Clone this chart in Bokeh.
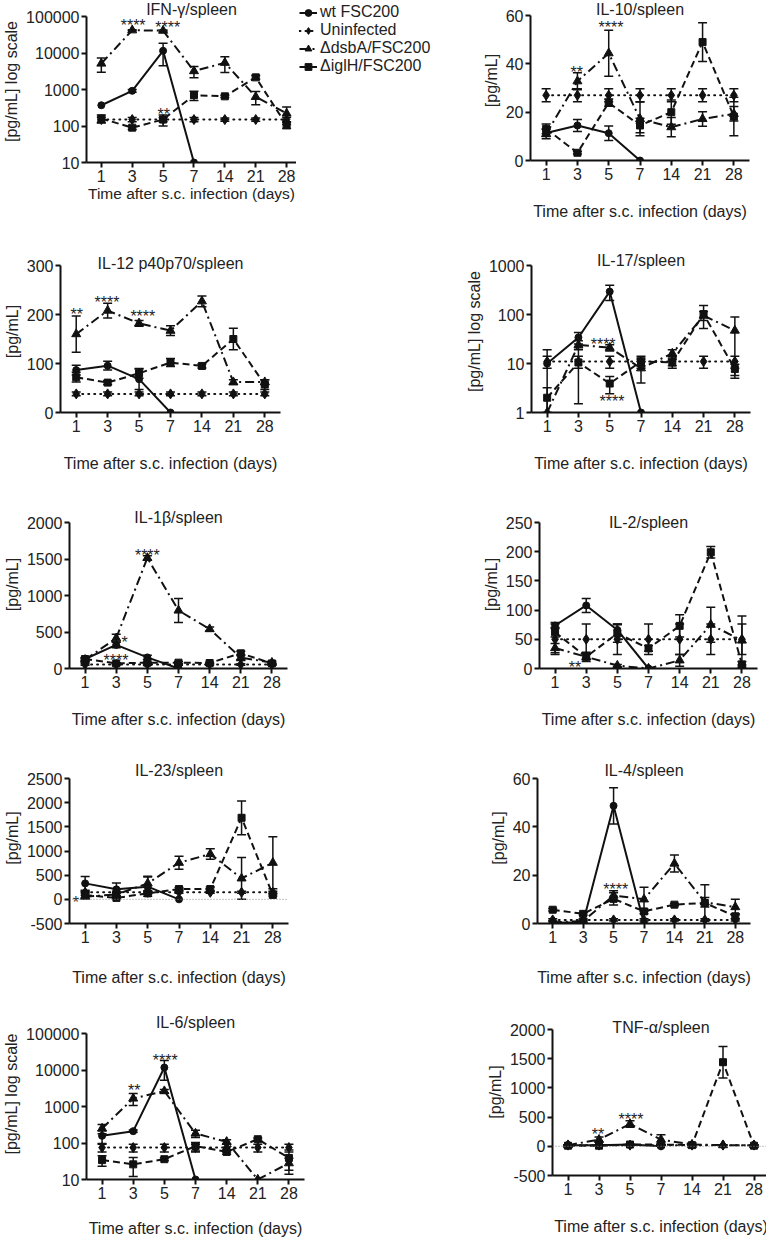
import math
from bokeh.plotting import figure
from bokeh.models import (ColumnDataSource, Whisker, TeeHead, Label, Legend, LegendItem,
                          FixedTicker, NumeralTickFormatter, Range1d, Span)
from bokeh.layouts import row, column
from bokeh.embed import file_html
from bokeh.resources import INLINE
from bokeh.core.properties import value

nan = float("nan")
FONT = "Liberation Sans"
INK = "#111111"
TXT = "#222222"

DAYS = ["1", "3", "5", "7", "14", "21", "28"]
SERIES_NAMES = ["wt FSC200", "Uninfected", "\u0394dsbA/FSC200", "\u0394iglH/FSC200"]
X_LABEL = "Time after s.c. infection (days)"

# ---------------- data (mean, SEM) ----------------
# IFN-gamma (log)
IFN_WT = [370, 920, 11500, 10, nan, nan, nan]
IFN_WT_SEM = [0, 80, 7000, 0, 0, 0, 0]
IFN_UN = [150, 150, 150, 150, 150, 150, 150]
IFN_UN_SEM = [25, 20, 20, 20, 15, 15, 20]
IFN_DS = [5150, 42000, 41000, 3200, 5400, 630, 220]
IFN_DS_SEM = [2200, 1500, 1500, 1100, 2500, 250, 110]
IFN_IG = [160, 90, 150, 700, 650, 2150, 105]
IFN_IG_SEM = [40, 10, 50, 200, 50, 250, 20]
IFN_STAR_X = [1.03, 2.15, 2.02]
IFN_STAR_Y = [71000, 65000, 272]
IFN_STAR_T = ["****", "****", "**"]

# IL-10
IL10_WT = [11.4, 14.5, 11.3, 0, nan, nan, nan]
IL10_WT_SEM = [1.5, 2.5, 3, 0, 0, 0, 0]
IL10_UN = [27, 27, 27, 27, 27, 27, 27]
IL10_UN_SEM = [2.7, 2.7, 2.7, 2.7, 2.7, 2.7, 2.7]
IL10_DS = [11, 32.8, 44.4, 17.2, 13.8, 17.2, 19.3]
IL10_DS_SEM = [2, 3.5, 9.5, 7, 4, 3, 3]
IL10_IG = [13.1, 3.2, 23.9, 14.5, 20, 49, 18.2]
IL10_IG_SEM = [2, 0.5, 1.5, 3, 5, 8, 8]
IL10_STAR_X = [0.98, 2.07]
IL10_STAR_Y = [37.9, 56.6]
IL10_STAR_T = ["**", "****"]

# IL-12 p40p70
IL12_WT = [86.6, 95.5, 68, 0, nan, nan, nan]
IL12_WT_SEM = [10, 9, 21, 0, 0, 0, 0]
IL12_UN = [38, 38, 38, 38, 38, 38, 38]
IL12_UN_SEM = [4, 4, 4, 4, 4, 4, 4]
IL12_DS = [160, 208, 182, 167, 227, 62, 62]
IL12_DS_SEM = [37, 15, 6, 10, 11, 5, 5]
IL12_IG = [72, 61, 80, 102, 95, 150, 57]
IL12_IG_SEM = [10, 4, 10, 8, 4, 22, 10]
IL12_STAR_X = [0.02, 0.98, 2.12]
IL12_STAR_Y = [208, 233, 204]
IL12_STAR_T = ["**", "****", "****"]

# IL-17 (log)
IL17_WT = [10, 34, 293, 1, nan, nan, nan]
IL17_WT_SEM = [9, 9, 100, 0, 0, 0, 0]
IL17_UN = [11, 11, 11, 11, 11, 11, 11]
IL17_UN_SEM = [3, 3, 3, 3, 3, 3, 3]
IL17_DS = [1, 24, 21, 8, 16, 95, 47]
IL17_DS_SEM = [0, 5, 3, 4, 3, 20, 42]
IL17_IG = [2, 10.5, 3.9, 11, 10.5, 102, 7.7]
IL17_IG_SEM = [1.2, 9, 1.5, 2, 1.5, 50, 2]
IL17_STAR_X = [1.79, 2.07]
IL17_STAR_Y = [29, 2.03]
IL17_STAR_T = ["****", "****"]

# IL-1beta
IL1B_WT = [130, 323, 152, 0, nan, nan, nan]
IL1B_WT_SEM = [20, 40, 30, 0, 0, 0, 0]
IL1B_UN = [55, 55, 55, 55, 55, 55, 55]
IL1B_UN_SEM = [10, 10, 10, 10, 10, 10, 10]
IL1B_DS = [120, 415, 1515, 795, 540, 150, 80]
IL1B_DS_SEM = [20, 55, 30, 165, 30, 40, 20]
IL1B_IG = [130, 70, 80, 80, 75, 208, 70]
IL1B_IG_SEM = [15, 10, 10, 15, 10, 30, 10]
IL1B_STAR_X = [1.27, 0.99, 2.0]
IL1B_STAR_Y = [415, 171, 1603]
IL1B_STAR_T = ["*", "****", "****"]

# IL-2
IL2_WT = [73.6, 108, 66, 0, nan, nan, nan]
IL2_WT_SEM = [5, 12, 10, 0, 0, 0, 0]
IL2_UN = [50, 50, 50, 50, 50, 50, 50]
IL2_UN_SEM = [26, 26, 26, 26, 26, 26, 26]
IL2_DS = [35, 20, 5, 0, 14, 75, 48]
IL2_DS_SEM = [8, 8, 2, 0, 10, 30, 42]
IL2_IG = [62, 20, 60, 34.5, 73, 199, 7]
IL2_IG_SEM = [8, 5, 15, 5, 19, 10, 5]
IL2_STAR_X = [0.64]
IL2_STAR_Y = [8.6]
IL2_STAR_T = ["**"]

# IL-23
IL23_WT = [330, 207, 262, 0, nan, nan, nan]
IL23_WT_SEM = [140, 130, 200, 0, 0, 0, 0]
IL23_UN = [145, 145, 145, 145, 145, 145, 145]
IL23_UN_SEM = [20, 20, 20, 20, 20, 20, 20]
IL23_DS = [55, 100, 330, 757, 937, 434, 757]
IL23_DS_SEM = [30, 40, 150, 135, 110, 430, 540]
IL23_IG = [90, 30, 124, 213, 213, 1687, 90]
IL23_IG_SEM = [60, 20, 20, 30, 40, 350, 20]
IL23_STAR_X = [-0.3]
IL23_STAR_Y = [20]
IL23_STAR_T = ["*"]

# IL-4
IL4_WT = [0.3, 0.5, 48.7, 0, nan, nan, nan]
IL4_WT_SEM = [0, 0, 7.5, 0, 0, 0, 0]
IL4_UN = [1.5, 1.5, 1.5, 1.5, 1.5, 1.5, 1.5]
IL4_UN_SEM = [0.5, 0.5, 0.5, 0.5, 0.5, 0.5, 0.5]
IL4_DS = [0.5, 1, 11.6, 10, 24.8, 8.8, 6.8]
IL4_DS_SEM = [0.5, 0.5, 2, 5, 3.5, 2, 3.2]
IL4_IG = [5.7, 4, 10.2, 5, 7.8, 8.5, 3]
IL4_IG_SEM = [0.5, 0.5, 2.5, 1, 0.5, 7.5, 1]
IL4_STAR_X = [2.07]
IL4_STAR_Y = [15.7]
IL4_STAR_T = ["****"]

# IL-6 (log)
IL6_WT = [157, 211, 11700, 10, nan, nan, nan]
IL6_WT_SEM = [60, 15, 6500, 0, 0, 0, 0]
IL6_UN = [75, 75, 75, 75, 75, 75, 75]
IL6_UN_SEM = [18, 18, 18, 18, 18, 18, 18]
IL6_DS = [250, 1660, 2640, 182, 108, 10, 28]
IL6_DS_SEM = [70, 600, 300, 40, 15, 0, 10]
IL6_IG = [34, 26, 36, 82, 57, 127, 39]
IL6_IG_SEM = [11, 14, 3, 22, 8, 10, 25]
IL6_STAR_X = [1.03, 2.03]
IL6_STAR_Y = [3470, 23000]
IL6_STAR_T = ["**", "****"]

# TNF-alpha
TNF_WT = [20, 20, 30, 0, nan, nan, nan]
TNF_WT_SEM = [5, 5, 5, 0, 0, 0, 0]
TNF_UN = [20, 20, 20, 20, 20, 20, 20]
TNF_UN_SEM = [5, 5, 5, 5, 5, 5, 5]
TNF_DS = [20, 114, 383, 114, 30, 20, 20]
TNF_DS_SEM = [5, 45, 55, 85, 10, 5, 5]
TNF_IG = [10, 10, 30, 30, 20, 1440, 10]
TNF_IG_SEM = [5, 5, 5, 10, 40, 270, 5]
TNF_STAR_X = [0.97, 2.03]
TNF_STAR_Y = [268, 526]
TNF_STAR_T = ["**", "****"]

# ---------------- panel definitions ----------------
LOG_LABEL = "[pg/mL] log scale"
LIN_LABEL = "[pg/mL]"
PANELS = {
    "IFN": dict(title="IFN-\u03b3/spleen", log=True, yr=(10, 100000), ticks=[10, 100, 1000, 10000, 100000],
                ylabel=LOG_LABEL, zero=False,
                data=[(IFN_WT, IFN_WT_SEM), (IFN_UN, IFN_UN_SEM), (IFN_DS, IFN_DS_SEM), (IFN_IG, IFN_IG_SEM)],
                stars=(IFN_STAR_X, IFN_STAR_Y, IFN_STAR_T)),
    "IL10": dict(title="IL-10/spleen", log=False, yr=(0, 60), ticks=[0, 20, 40, 60], ylabel=LIN_LABEL, zero=False,
                 data=[(IL10_WT, IL10_WT_SEM), (IL10_UN, IL10_UN_SEM), (IL10_DS, IL10_DS_SEM), (IL10_IG, IL10_IG_SEM)],
                 stars=(IL10_STAR_X, IL10_STAR_Y, IL10_STAR_T)),
    "IL12": dict(title="IL-12 p40p70/spleen", log=False, yr=(0, 300), ticks=[0, 100, 200, 300], ylabel=LIN_LABEL,
                 zero=False,
                 data=[(IL12_WT, IL12_WT_SEM), (IL12_UN, IL12_UN_SEM), (IL12_DS, IL12_DS_SEM), (IL12_IG, IL12_IG_SEM)],
                 stars=(IL12_STAR_X, IL12_STAR_Y, IL12_STAR_T)),
    "IL17": dict(title="IL-17/spleen", log=True, yr=(1, 1000), ticks=[1, 10, 100, 1000], ylabel=LOG_LABEL, zero=False,
                 data=[(IL17_WT, IL17_WT_SEM), (IL17_UN, IL17_UN_SEM), (IL17_DS, IL17_DS_SEM), (IL17_IG, IL17_IG_SEM)],
                 stars=(IL17_STAR_X, IL17_STAR_Y, IL17_STAR_T)),
    "IL1B": dict(title="IL-1\u03b2/spleen", log=False, yr=(0, 2000), ticks=[0, 500, 1000, 1500, 2000],
                 ylabel=LIN_LABEL, zero=False,
                 data=[(IL1B_WT, IL1B_WT_SEM), (IL1B_UN, IL1B_UN_SEM), (IL1B_DS, IL1B_DS_SEM), (IL1B_IG, IL1B_IG_SEM)],
                 stars=(IL1B_STAR_X, IL1B_STAR_Y, IL1B_STAR_T)),
    "IL2": dict(title="IL-2/spleen", log=False, yr=(0, 250), ticks=[0, 50, 100, 150, 200, 250], ylabel=LIN_LABEL,
                zero=False,
                data=[(IL2_WT, IL2_WT_SEM), (IL2_UN, IL2_UN_SEM), (IL2_DS, IL2_DS_SEM), (IL2_IG, IL2_IG_SEM)],
                stars=(IL2_STAR_X, IL2_STAR_Y, IL2_STAR_T)),
    "IL23": dict(title="IL-23/spleen", log=False, yr=(-500, 2500), ticks=[-500, 0, 500, 1000, 1500, 2000, 2500],
                 ylabel=LIN_LABEL, zero=True,
                 data=[(IL23_WT, IL23_WT_SEM), (IL23_UN, IL23_UN_SEM), (IL23_DS, IL23_DS_SEM), (IL23_IG, IL23_IG_SEM)],
                 stars=(IL23_STAR_X, IL23_STAR_Y, IL23_STAR_T)),
    "IL4": dict(title="IL-4/spleen", log=False, yr=(0, 60), ticks=[0, 20, 40, 60], ylabel=LIN_LABEL, zero=False,
                data=[(IL4_WT, IL4_WT_SEM), (IL4_UN, IL4_UN_SEM), (IL4_DS, IL4_DS_SEM), (IL4_IG, IL4_IG_SEM)],
                stars=(IL4_STAR_X, IL4_STAR_Y, IL4_STAR_T)),
    "IL6": dict(title="IL-6/spleen", log=True, yr=(10, 100000), ticks=[10, 100, 1000, 10000, 100000],
                ylabel=LOG_LABEL, zero=False,
                data=[(IL6_WT, IL6_WT_SEM), (IL6_UN, IL6_UN_SEM), (IL6_DS, IL6_DS_SEM), (IL6_IG, IL6_IG_SEM)],
                stars=(IL6_STAR_X, IL6_STAR_Y, IL6_STAR_T)),
    "TNF": dict(title="TNF-\u03b1/spleen", log=False, yr=(-500, 2000), ticks=[-500, 0, 500, 1000, 1500, 2000],
                ylabel=LIN_LABEL, zero=True,
                data=[(TNF_WT, TNF_WT_SEM), (TNF_UN, TNF_UN_SEM), (TNF_DS, TNF_DS_SEM), (TNF_IG, TNF_IG_SEM)],
                stars=(TNF_STAR_X, TNF_STAR_Y, TNF_STAR_T)),
}

# layout geometry (pixels): ext = frame space above the top tick used for the title
GEOM = {
    "IFN": dict(left=80, fw=210, right=0, ext=16, fh=146, bottom=88, xr=(-0.48, 6.32), tdy=7, xls=0, xlf="15.5px"),
    "IL10": dict(left=54, fw=219, right=22, ext=15, fh=145, bottom=90, xr=(-0.5, 6.5), tdy=6, xls=20, xlf="16px"),
    "IL12": dict(left=55, fw=220, right=115, ext=15, fh=147, bottom=88, xr=(-0.5, 6.5), tdy=2, xls=20, xlf="16px"),
    "IL17": dict(left=136, fw=219, right=20, ext=15, fh=147, bottom=88, xr=(-0.5, 6.5), tdy=5, xls=20, xlf="16px"),
    "IL1B": dict(left=67, fw=218, right=105, ext=22, fh=146, bottom=84, xr=(-0.5, 6.5), tdy=5, xls=20, xlf="16px"),
    "IL2": dict(left=147, fw=218, right=10, ext=22, fh=146, bottom=84, xr=(-0.5, 6.5), tdy=0, xls=20, xlf="16px"),
    "IL23": dict(left=64, fw=219, right=107, ext=26, fh=145, bottom=85, xr=(-0.5, 6.5), tdy=8, xls=23, xlf="16px"),
    "IL4": dict(left=142, fw=213, right=20, ext=26, fh=145, bottom=85, xr=(-0.5, 6.5), tdy=8, xls=23, xlf="16px"),
    "IL6": dict(left=80, fw=218, right=92, ext=25, fh=146, bottom=59, xr=(-0.5, 6.5), tdy=11, xls=18, xlf="16px"),
    "TNF": dict(left=156, fw=217, right=2, ext=21, fh=146, bottom=63, xr=(-0.5, 6.5), tdy=2, xls=20, xlf="16px"),
}

STYLES = [
    dict(marker="circle", size=7, dash="solid"),
    dict(marker="diamond", size=10, dash="1 5"),
    dict(marker="triangle", size=9, dash="9 4 2 4"),
    dict(marker="square", size=7, dash="7 4"),
]
DRAW_ORDER = [1, 2, 3, 0]


def style_axis(ax):
    ax.axis_line_width = 2
    ax.axis_line_color = INK
    ax.major_tick_line_width = 2
    ax.major_tick_line_color = INK
    ax.major_tick_out = 5
    ax.major_tick_in = 0
    ax.minor_tick_line_color = None
    ax.major_label_text_font = FONT
    ax.major_label_text_font_size = "16px"
    ax.major_label_text_color = TXT
    ax.major_label_standoff = 2
    ax.axis_label_text_font = FONT
    ax.axis_label_text_font_size = "16px"
    ax.axis_label_text_font_style = "normal"
    ax.axis_label_text_color = TXT


def make_panel(key):
    spec = PANELS[key]
    g = GEOM[key]
    lo, hi = spec["yr"]
    if spec["log"]:
        span = math.log10(hi) - math.log10(lo)
        top = 10 ** (math.log10(hi) + g["ext"] * span / g["fh"])
    else:
        top = hi + g["ext"] * (hi - lo) / g["fh"]
    kw = dict(y_axis_type="log") if spec["log"] else {}
    p = figure(frame_width=g["fw"], frame_height=g["fh"] + g["ext"],
               min_border_left=g["left"], min_border_right=g["right"],
               min_border_top=0, min_border_bottom=g["bottom"],
               x_range=Range1d(*g["xr"]), y_range=Range1d(lo, top),
               toolbar_location=None, output_backend="svg", **kw)
    p.outline_line_color = None
    p.grid.visible = False
    style_axis(p.xaxis[0])
    style_axis(p.yaxis[0])
    p.xaxis.ticker = FixedTicker(ticks=list(range(len(DAYS))))
    p.xaxis.major_label_overrides = {i: d for i, d in enumerate(DAYS)}
    p.xaxis.axis_label = X_LABEL
    p.xaxis.axis_label_standoff = g["xls"]
    p.xaxis.axis_label_text_font_size = g["xlf"]
    p.yaxis.ticker = FixedTicker(ticks=spec["ticks"])
    p.yaxis.formatter = NumeralTickFormatter(format="0")
    p.yaxis.axis_label = spec["ylabel"]
    p.yaxis.axis_label_standoff = 3
    p.yaxis.bounds = (lo, hi)

    if spec["zero"]:
        p.add_layout(Span(location=0, dimension="width", line_color="#888888",
                          line_dash="1 2", line_width=1))

    floor = lo
    xs = list(range(len(DAYS)))
    for si in DRAW_ORDER:
        vals, sems = spec["data"][si]
        st = STYLES[si]
        src = ColumnDataSource(dict(x=xs, y=vals))
        p.line("x", "y", source=src, line_color=INK, line_width=2, line_dash=st["dash"],
               line_cap="round" if si == 1 else "butt")
        bx, up, lw = [], [], []
        for i, (v, s) in enumerate(zip(vals, sems)):
            if s and s > 0 and not math.isnan(v):
                bx.append(i)
                up.append(v + s)
                lw.append(max(v - s, floor) if spec["log"] else v - s)
        if bx:
            wsrc = ColumnDataSource(dict(base=bx, upper=up, lower=lw))
            p.add_layout(Whisker(source=wsrc, base="base", upper="upper", lower="lower",
                                 line_color=INK, line_width=1.5,
                                 upper_head=TeeHead(size=9, line_width=1.5, line_color=INK),
                                 lower_head=TeeHead(size=9, line_width=1.5, line_color=INK)))
        p.scatter("x", "y", source=src, marker=st["marker"], size=st["size"],
                  fill_color=INK, line_color=INK)

    sx, sy, stx = spec["stars"]
    p.text(x=sx, y=sy, text=stx, text_align="center", text_baseline="middle",
           text_font=value(FONT), text_font_size="16px", text_color=TXT, y_offset=4)

    p.add_layout(Label(x=g["fw"] / 2, y=g["fh"] + g["tdy"], x_units="screen", y_units="screen",
                       text=spec["title"], text_align="center", text_baseline="middle",
                       text_font=FONT, text_font_size="16px", text_color=TXT))
    return p


def make_legend():
    lf = figure(width=180, height=250, toolbar_location=None, output_backend="svg",
                x_axis_location=None, y_axis_location=None, min_border=0,
                x_range=Range1d(0, 1), y_range=Range1d(0, 1))
    lf.outline_line_color = None
    lf.grid.visible = False
    items = []
    for name, st in zip(SERIES_NAMES, STYLES):
        r1 = lf.line(x=[-5, -4], y=[-5, -5], line_color=INK, line_width=2, line_dash=st["dash"],
                     line_cap="round" if st["marker"] == "diamond" else "butt")
        r2 = lf.scatter(x=[-5], y=[-5], marker=st["marker"], size=st["size"], fill_color=INK, line_color=INK)
        items.append(LegendItem(label=name, renderers=[r1, r2]))
    leg = Legend(items=items, location="top_left", margin=3, padding=0, spacing=0,
                 glyph_width=18, glyph_height=17, label_height=17, label_standoff=3,
                 label_text_font=FONT, label_text_font_size="16px", label_text_color=TXT,
                 border_line_color=None, background_fill_alpha=0)
    lf.add_layout(leg)
    return lf


layout = column(
    row(make_panel("IFN"), make_legend(), make_panel("IL10")),
    row(make_panel("IL12"), make_panel("IL17")),
    row(make_panel("IL1B"), make_panel("IL2")),
    row(make_panel("IL23"), make_panel("IL4")),
    row(make_panel("IL6"), make_panel("TNF")),
)

with open("out.html", "w") as f:
    f.write(file_html(layout, INLINE))
